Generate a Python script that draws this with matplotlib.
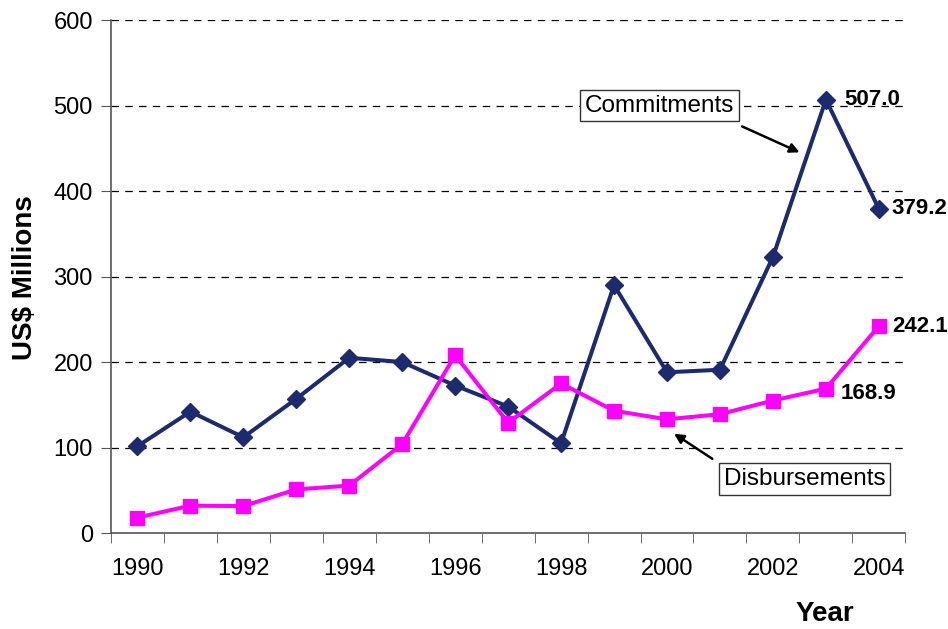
import matplotlib
matplotlib.use('Agg')
import matplotlib.pyplot as plt

years = list(range(1990, 2005))
commitments = [101.5, 142, 112, 157, 205, 200, 172.5, 148, 105, 290, 188, 191, 323, 507.0, 379.2]
disbursements = [18, 32, 31.5, 51, 55.5, 104, 208, 129, 175, 143, 133, 139, 155, 168.9, 242.1]
tick_years = [1990, 1992, 1994, 1996, 1998, 2000, 2002, 2004]

plt.rcParams['font.family'] = ['Liberation Sans', 'DejaVu Sans']

fig = plt.figure(figsize=(9.48, 6.29), dpi=100)
ax = fig.add_axes([0.117, 0.1526, 0.838, 0.8154])

idx = list(range(len(years)))
ax.plot(idx, commitments, color='#1C2A6E', lw=2.9, marker='D', markersize=9, zorder=3)
ax.plot(idx, disbursements, color='#FF00FF', lw=2.9, marker='s', markersize=10.5, zorder=3)

ax.set_xlim(-0.5, len(years) - 0.5)
ax.set_ylim(0, 600)
ax.set_yticks(range(0, 601, 100))
ax.set_xticks([years.index(y) for y in tick_years])
ax.set_xticklabels([str(y) for y in tick_years])
ax.set_xticks([i - 0.5 for i in range(len(years) + 1)], minor=True)
ax.tick_params(axis='x', which='major', length=0, pad=18, labelsize=17)
ax.tick_params(axis='x', which='minor', length=7, color='#555555')
ax.tick_params(axis='y', length=7, color='#555555', labelsize=17, pad=6)

for v in range(100, 601, 100):
    ax.axhline(v, color='black', lw=0.9, ls=(0, (6, 5)), zorder=1)

for s in ['top', 'right']:
    ax.spines[s].set_visible(False)
for s in ['left', 'bottom']:
    ax.spines[s].set_color('#555555')
    ax.spines[s].set_linewidth(1.2)

# value labels on the last two points
bold = dict(fontsize=16, fontweight='bold', va='center', ha='left', textcoords='offset pixels')
ax.annotate(f'{commitments[-2]:.1f}', (13, commitments[-2]), xytext=(18, 0), **bold)
ax.annotate(f'{commitments[-1]:.1f}', (14, commitments[-1]), xytext=(13, 0), **bold)
ax.annotate(f'{disbursements[-2]:.1f}', (13, disbursements[-2]), xytext=(15, -5), **bold)
ax.annotate(f'{disbursements[-1]:.1f}', (14, disbursements[-1]), xytext=(13, 0), **bold)
for t in ax.texts:
    t.set_clip_on(False)

# series callouts
box = dict(boxstyle='square,pad=0.2', fc='white', ec='#333333', lw=1)
ax.text(9.86, 500, 'Commitments', fontsize=17.5, ha='center', va='center', bbox=box, zorder=4)
ax.annotate('', xy=(12.55, 444), xytext=(11.37, 477),
            arrowprops=dict(arrowstyle='-|>', color='black', lw=1.8, mutation_scale=14))
ax.text(12.6, 63, 'Disbursements', fontsize=17.5, ha='center', va='center', bbox=box, zorder=4)
ax.annotate('', xy=(10.09, 118), xytext=(10.9, 85),
            arrowprops=dict(arrowstyle='-|>', color='black', lw=1.8, mutation_scale=14))

fig.text(825 / 948, 1 - 614 / 629, 'Year', fontsize=20, fontweight='bold', ha='center', va='center')
fig.text(25 / 948, 1 - 278 / 629, 'US$ Millions', fontsize=20, fontweight='bold',
         rotation=90, ha='center', va='center')

fig.savefig('out.png', dpi=100)
